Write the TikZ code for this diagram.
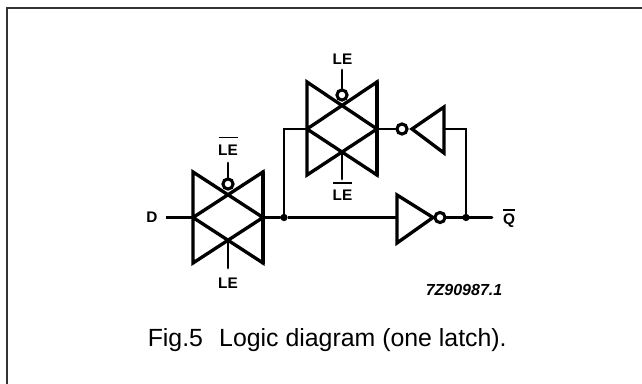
\documentclass[tikz,border=0pt]{standalone}
\usepackage{fontspec}
\setmainfont{Liberation Sans}
\begin{document}
\begin{tikzpicture}[x=0.75pt,y=-0.75pt,
  gate/.style={line width=2.5pt,line cap=round,line join=miter},
  wire/.style={line width=2.1pt,line cap=round,line join=miter},
  thin wire/.style={line width=1.6pt},
  lbl/.style={inner sep=0pt,font=\fontsize{11.5}{13}\selectfont\bfseries},
  bar/.style={line width=1.2pt},
  bub/.style={circle,draw,line width=2.3pt,fill=white,minimum size=7.6pt,inner sep=0pt},
  junction/.style={circle,fill=black,minimum size=5.5pt,inner sep=0pt},
  frame/.style={draw=black!80!white,line width=1.5pt}]
\useasboundingbox (0,0) rectangle (642,384);
\coordinate (fa) at (7,384); \coordinate (fb0) at (7,8); \coordinate (fc) at (642,8);
\draw[frame] (fa) -- (fb0) -- (fc);
% input switch
\coordinate (a1) at (193,172); \coordinate (a2) at (263,172);
\coordinate (a3) at (193,217.5); \coordinate (a4) at (263,217.5);
\coordinate (a5) at (193,263); \coordinate (a6) at (263,263);
\draw[gate] (a3) -- (a1) -- (a4) -- (a2) -- (a3) -- (a5) -- (a4) -- (a6) -- (a3);
\draw[gate] (a2) -- (a6);
% latch switch
\coordinate (b1) at (307,82); \coordinate (b2) at (377,82);
\coordinate (b3) at (307,129); \coordinate (b4) at (377,129);
\coordinate (b5) at (307,175); \coordinate (b6) at (377,175);
\draw[gate] (b3) -- (b1) -- (b4) -- (b2) -- (b3) -- (b5) -- (b4) -- (b6) -- (b3);
\draw[gate] (b2) -- (b6);
% gate stubs
\node[bub] (ba) at (228,184) {};
\coordinate (ta) at (228,163);
\draw[wire] (ba) -- (ta);
\coordinate (ca) at (228,242); \coordinate (da) at (228,268);
\draw[wire] (ca) -- (da);
\node[bub] (bb) at (342,95) {};
\coordinate (tb) at (342,70);
\draw[wire] (bb) -- (tb);
\coordinate (cb) at (342,152); \coordinate (db) at (342,179);
\draw[wire] (cb) -- (db);
% inverters
\coordinate (f1) at (444,107); \coordinate (f2) at (444,153); \coordinate (f3) at (412,129);
\draw[gate] (f1) -- (f2) -- (f3) -- cycle;
\node[bub] (bf) at (402,129) {};
\coordinate (g1) at (397,195); \coordinate (g2) at (397,243); \coordinate (g3) at (433,217.5);
\draw[gate] (g1) -- (g2) -- (g3) -- cycle;
\node[bub] (bg) at (440,217.5) {};
% wiring
\node[junction] (j1) at (284,217.5) {};
\node[junction] (j2) at (466,217.5) {};
\coordinate (din) at (166,217.5);
\coordinate (qo) at (492,217.5);
\coordinate (fb) at (444,129);
\coordinate (gi) at (397,217.5);
\draw[thin wire] (din) -- (a3);
\draw[wire] (a4) -- (j1);
\draw[wire] (j1) -- (284,129) -- (b3);
\draw[thin wire] (j1) -- (gi);
\draw[wire] (b4) -- (bf);
\draw[wire] (fb) -- (466,129) -- (j2);
\draw[wire] (bg) -- (qo);
% labels
\node[lbl] (d) at (152,217) {D};
\node[lbl] (l1) at (228,150) {LE};
\draw[bar] (218.5,137.5) -- (238,137.5);
\node[lbl] (l2) at (228,283) {LE};
\node[lbl] (l3) at (342.5,59) {LE};
\node[lbl] (l4) at (342.5,195) {LE};
\draw[bar] (333,183) -- (352,183);
\node[lbl] (q) at (509,221) {Q};
\draw[bar] (503,210) -- (515,210);
\node[inner sep=0pt,font=\fontsize{12}{14}\selectfont\bfseries\itshape] (code) at (464,290) {7Z90987.1};
\node[inner sep=0pt,anchor=base west,font=\fontsize{18.65}{21}\selectfont] (cap) at (147.5,347) {Fig.5\hspace{0.65em}Logic diagram (one latch).};
\end{tikzpicture}
\end{document}
